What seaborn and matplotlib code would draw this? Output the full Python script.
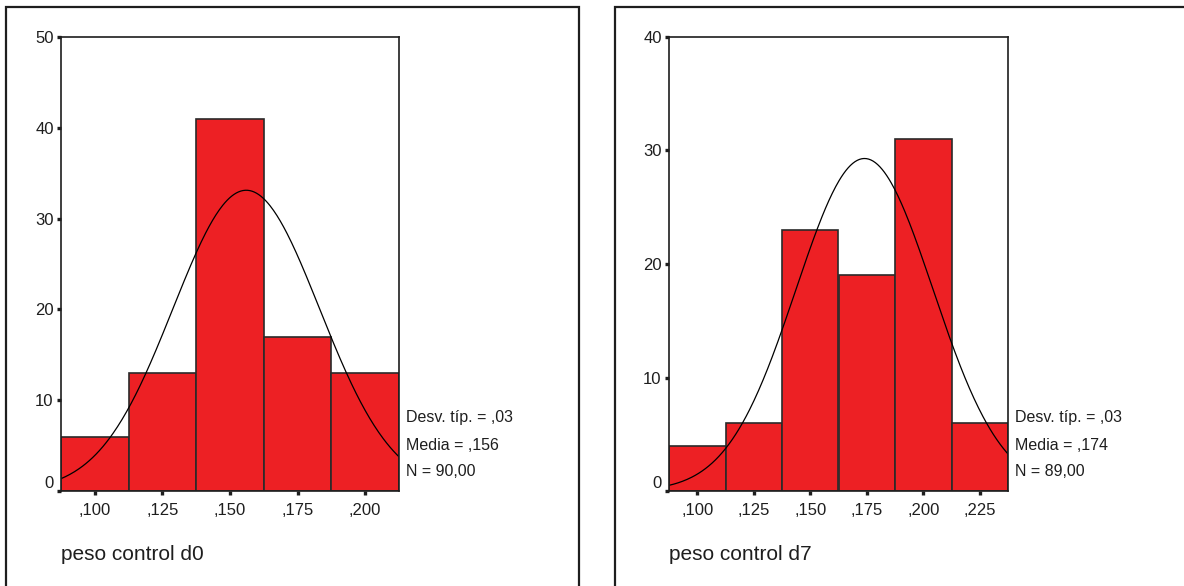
import numpy as np
import pandas as pd
import matplotlib
matplotlib.use("Agg")
import matplotlib.pyplot as plt
import seaborn as sns
from matplotlib.patches import Rectangle

# histogram bins (centres) and counts
centers_d0 = [0.100, 0.125, 0.150, 0.175, 0.200]
counts_d0 = [6, 13, 41, 17, 13]
centers_d7 = [0.100, 0.125, 0.150, 0.175, 0.200, 0.225]
counts_d7 = [4, 6, 23, 19, 31, 6]

# summary stats for the fitted normal curve
mean_d0, sd_d0, n_d0 = 0.156, 0.0271, 90
mean_d7, sd_d7, n_d7 = 0.174, 0.0303, 89

xticks_d0 = [",100", ",125", ",150", ",175", ",200"]
xticks_d7 = [",100", ",125", ",150", ",175", ",200", ",225"]
stats_d0 = ["Desv. típ. = ,03", "Media = ,156", "N = 90,00"]
stats_d7 = ["Desv. típ. = ,03", "Media = ,174", "N = 89,00"]

sns.set_style("white")
plt.rcParams["font.family"] = ["Liberation Sans", "DejaVu Sans"]

W, H = 1184, 586
fig = plt.figure(figsize=(W / 100, H / 100), dpi=100)

RED = "#ED2024"
EDGE = "#2a2a2a"
INK = "#1e1e1e"


def px_axes(l, t, r, b):
    return fig.add_axes([l / W, (H - b) / H, (r - l) / W, (b - t) / H])


def panel(ax, centers, counts, mean, sd, n, ymax, yticks, xlabels, stats, xlab_px, name):
    bw = 0.025
    edges = [c - bw / 2 for c in centers] + [centers[-1] + bw / 2]
    df = pd.DataFrame({"x": centers, "w": counts})
    sns.histplot(data=df, x="x", weights="w", bins=edges, ax=ax,
                 color=RED, alpha=1, edgecolor=EDGE, linewidth=1.2)
    xs = np.linspace(edges[0], edges[-1], 300)
    ys = n * bw * np.exp(-0.5 * ((xs - mean) / sd) ** 2) / (sd * np.sqrt(2 * np.pi))
    ax.plot(xs, ys, color="black", linewidth=0.9)
    ax.set_xlim(edges[0], edges[-1])
    ax.set_ylim(0, ymax)
    ax.set_xticks(centers)
    ax.set_xticklabels(xlabels)
    ax.set_yticks(yticks)
    ax.set_yticklabels([str(v) for v in yticks])
    ax.set_xlabel("")
    ax.set_ylabel("")
    for s in ax.spines.values():
        s.set_visible(True)
        s.set_color(INK)
        s.set_linewidth(1.2)
    ax.tick_params(axis="both", direction="out", length=2.8, width=2.4,
                   color=INK, labelsize=12, labelcolor=INK)
    ax.tick_params(axis="x", pad=5.5, bottom=True)
    ax.tick_params(axis="y", pad=2.5, left=True)
    ax.get_yticklabels()[0].set_va("bottom")
    for txt, yf in zip(stats, [0.161, 0.101, 0.042]):
        ax.text(1.02, yf, txt, transform=ax.transAxes, fontsize=11.5,
                va="center", ha="left", color=INK)
    fig.text(xlab_px / W, (H - 560) / H, name,
             fontsize=15, color=INK, va="baseline", ha="left")


# outer frames (SPSS chart boxes), cut by the page edge
fig.patches.append(Rectangle((6 / W, -0.1), (579 - 6) / W, 1.1 - 6.5 / H,
                             transform=fig.transFigure, fill=False,
                             edgecolor=INK, linewidth=1.6))
fig.patches.append(Rectangle((615 / W, -0.1), 0.6, 1.1 - 7 / H,
                             transform=fig.transFigure, fill=False,
                             edgecolor=INK, linewidth=1.6))

ax1 = px_axes(61, 37, 399, 491)
panel(ax1, centers_d0, counts_d0, mean_d0, sd_d0, n_d0, 50, [0, 10, 20, 30, 40, 50],
      xticks_d0, stats_d0, 61, "peso control d0")

ax2 = px_axes(669, 37, 1008, 491)
panel(ax2, centers_d7, counts_d7, mean_d7, sd_d7, n_d7, 40, [0, 10, 20, 30, 40],
      xticks_d7, stats_d7, 669, "peso control d7")

fig.savefig("out.png", dpi=100)
